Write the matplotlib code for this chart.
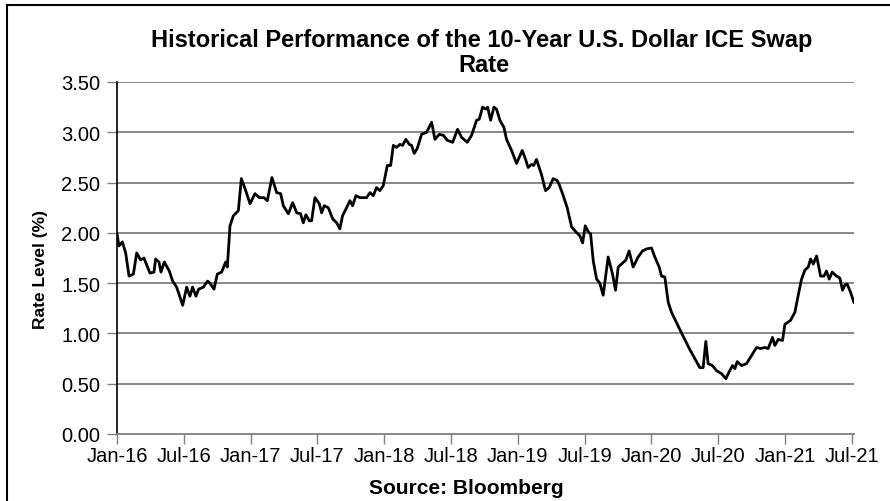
import matplotlib.pyplot as plt
from matplotlib.patches import Rectangle

# months since Jan 2016
months = [0.0, 0.18, 0.48, 0.78, 1.08, 1.47, 1.77, 2.12, 2.42, 2.96, 3.32, 3.47, 3.77, 3.95,
          4.25, 4.70, 5.00, 5.36, 5.90, 6.26, 6.55, 6.79, 7.09, 7.33, 7.75, 8.14, 8.35, 8.71,
          9.01, 9.40, 9.76, 9.91, 10.15, 10.45, 10.90, 11.17, 11.50, 11.95, 12.39, 12.78, 13.20,
          13.50, 13.92, 14.34, 14.70, 14.94, 15.39, 15.78, 16.14, 16.49, 16.73, 16.97, 17.27,
          17.48, 17.78, 18.17, 18.38, 18.62, 18.98, 19.37, 19.73, 20.02, 20.26, 20.62, 20.92,
          21.16, 21.46, 21.82, 22.12, 22.42,
          22.72, 23.02, 23.32, 23.61, 23.92, 24.28, 24.58, 24.82, 25.12, 25.41, 25.65, 25.95,
          26.25, 26.46, 26.70, 26.97, 27.36, 27.81, 28.26, 28.56, 28.95, 29.31, 29.67, 30.15,
          30.59, 30.95, 31.46, 31.85, 32.30, 32.54, 32.84, 33.14, 33.29, 33.56, 33.86, 34.09,
          34.39, 34.75, 34.99, 35.44, 35.89, 36.40, 36.70, 36.93, 37.23, 37.44, 37.68, 38.13,
          38.49, 38.82, 39.18, 39.54, 39.72, 40.02, 40.44, 40.83, 41.22, 41.58, 41.82, 42.06,
          42.33, 42.54, 42.78, 43.08,
          43.37, 43.67, 44.12, 44.51, 44.78, 45.02, 45.41, 45.71, 46.00, 46.36, 46.81, 47.20,
          47.56, 48.01, 48.31, 48.70, 48.91, 49.21, 49.51, 49.81, 50.55, 51.45, 52.35, 52.65,
          52.89, 53.10, 53.49, 53.85, 54.30, 54.69, 54.99, 55.29, 55.50, 55.71, 56.10, 56.55,
          56.99, 57.44, 57.80, 58.19, 58.49, 58.88, 59.09, 59.39, 59.78, 59.99, 60.50, 60.89,
          61.19, 61.49, 61.79, 62.09, 62.30, 62.54, 62.84, 63.20, 63.50, 63.73, 63.97, 64.24,
          64.63, 64.93, 65.17, 65.38, 65.59, 65.89, 66.19]

rate = [1.99, 1.87, 1.91, 1.80, 1.57, 1.59, 1.80, 1.73, 1.75, 1.60, 1.61, 1.74, 1.71, 1.61,
        1.71, 1.62, 1.52, 1.46, 1.28, 1.46, 1.37, 1.46, 1.37, 1.44, 1.46, 1.52, 1.50, 1.44,
        1.59, 1.61, 1.71, 1.66, 2.07, 2.17, 2.22, 2.54, 2.44, 2.29, 2.39, 2.35, 2.35,
        2.32, 2.55, 2.40, 2.39, 2.27, 2.19, 2.30, 2.20, 2.19, 2.10, 2.18, 2.12,
        2.12, 2.35, 2.29, 2.20, 2.27, 2.25, 2.14, 2.10, 2.04, 2.17, 2.25, 2.32,
        2.27, 2.37, 2.35, 2.35, 2.35,
        2.40, 2.37, 2.45, 2.42, 2.47, 2.67, 2.67, 2.87, 2.85, 2.88, 2.87, 2.93,
        2.88, 2.87, 2.79, 2.84, 2.98, 3.00, 3.10, 2.93, 2.98, 2.97, 2.92, 2.90,
        3.03, 2.95, 2.90, 2.97, 3.12, 3.13, 3.25, 3.23, 3.25, 3.12, 3.25, 3.23,
        3.12, 3.05, 2.93, 2.82, 2.69, 2.82, 2.73, 2.65, 2.68, 2.67, 2.73, 2.58,
        2.42, 2.45, 2.54, 2.52, 2.48, 2.39, 2.25, 2.06, 2.01, 1.97, 1.90, 2.07,
        2.01, 1.99, 1.72, 1.54,
        1.50, 1.38, 1.76, 1.59, 1.43, 1.66, 1.70, 1.73, 1.82, 1.66, 1.76, 1.82,
        1.84, 1.85, 1.76, 1.66, 1.57, 1.56, 1.31, 1.21, 1.04, 0.84, 0.66, 0.66,
        0.92, 0.70, 0.68, 0.63, 0.60, 0.55, 0.62, 0.68, 0.65, 0.72, 0.68, 0.70,
        0.78, 0.86, 0.85, 0.86, 0.85, 0.96, 0.88, 0.94, 0.93, 1.09, 1.13, 1.21,
        1.38, 1.54, 1.63, 1.66, 1.74, 1.69, 1.77, 1.57, 1.57, 1.62, 1.54, 1.61,
        1.57, 1.55, 1.43, 1.48, 1.49, 1.41, 1.31]

tick_pos = [0, 6, 12, 18, 24, 30, 36, 42, 48, 54, 60, 66]
tick_labels = ["Jan-16", "Jul-16", "Jan-17", "Jul-17", "Jan-18", "Jul-18",
               "Jan-19", "Jul-19", "Jan-20", "Jul-20", "Jan-21", "Jul-21"]
y_ticks = [0.0, 0.5, 1.0, 1.5, 2.0, 2.5, 3.0, 3.5]

plt.rcParams['font.family'] = ['Liberation Sans', 'DejaVu Sans']

fig = plt.figure(figsize=(8.9, 5.02), dpi=100)
ax = fig.add_axes([117 / 890, 1 - 435 / 502, (854 - 117) / 890, (435 - 83) / 502])

grid_col = '#7f7f7f'
for yv in y_ticks[1:]:
    ax.axhline(yv, color=grid_col, lw=1.3, zorder=1)

ax.plot(months, rate, color='black', lw=2.0, zorder=3)

ax.set_xlim(0, 66.2)
ax.set_ylim(0, 3.5)
ax.set_xticks(tick_pos)
ax.set_xticklabels(tick_labels, fontsize=14.5)
ax.set_yticks(y_ticks)
ax.set_yticklabels(["%.2f" % v for v in y_ticks], fontsize=14.5)
ax.tick_params(axis='both', direction='out', length=7, width=1, color=grid_col, pad=2)
ax.tick_params(axis='y', pad=5)

for s in ['top', 'right']:
    ax.spines[s].set_visible(False)
ax.spines['left'].set_color('black')
ax.spines['left'].set_linewidth(1.2)
ax.spines['bottom'].set_color(grid_col)
ax.spines['bottom'].set_linewidth(1.3)

fig.text(482 / 890, 1 - 40 / 502,
         "Historical Performance of the 10-Year U.S. Dollar ICE Swap",
         ha='center', va='center', fontsize=17, fontweight='bold')
fig.text(484 / 890, 1 - 65 / 502, "Rate",
         ha='center', va='center', fontsize=17, fontweight='bold')
fig.text(40 / 890, 1 - 270 / 502, "Rate Level (%)", rotation=90,
         ha='center', va='center', fontsize=12.5, fontweight='bold')
fig.text(466 / 890, 1 - 489 / 502, "Source: Bloomberg",
         ha='center', va='center', fontsize=15, fontweight='bold')

# frame around the figure (only top and left fall inside the image)
fig.patches.append(Rectangle((7 / 890, -0.1), 1.2, 1.1 - 6 / 502,
                             transform=fig.transFigure, fill=False,
                             edgecolor='black', lw=1.5))

fig.savefig("out.png", dpi=100)
